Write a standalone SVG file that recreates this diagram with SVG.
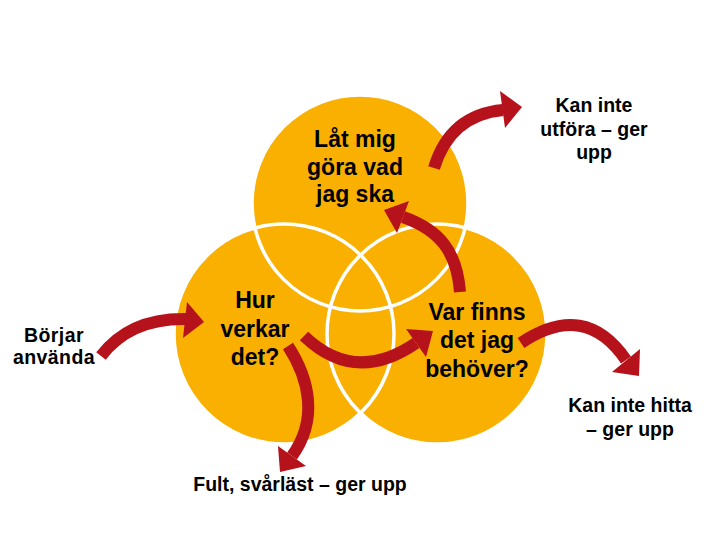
<svg xmlns="http://www.w3.org/2000/svg" width="720" height="540" viewBox="0 0 720 540">
<style>
.c{fill:#F9B000}
.o{fill:none;stroke:#FFFFFF;stroke-width:3.5}
.a{fill:none;stroke:#B5121B;stroke-width:12;stroke-linecap:butt}
.h{fill:#B5121B}
.t{font-family:"Liberation Sans",Arial,sans-serif;font-weight:bold;fill:#000;text-anchor:middle}
.big{font-size:23px}
.sm{font-size:19.5px}
</style>
<rect width="720" height="540" fill="#FFFFFF"/>
<g id="circles">
<circle class="c" cx="360" cy="203" r="108"/>
<circle class="c" cx="284" cy="334" r="110"/>
<circle class="c" cx="437" cy="334" r="110"/>
<circle class="o" cx="360" cy="203" r="108"/>
<circle class="o" cx="284" cy="334" r="110"/>
<circle class="o" cx="437" cy="334" r="110"/>
</g>
<g id="node-top"><text class="t big"><tspan x="355" y="147">Låt mig</tspan><tspan x="355" y="175">göra vad</tspan><tspan x="355" y="202">jag ska</tspan></text></g>
<g id="node-left"><text class="t big"><tspan x="255" y="308">Hur</tspan><tspan x="255" y="337">verkar</tspan><tspan x="255" y="365">det?</tspan></text></g>
<g id="node-right"><text class="t big"><tspan x="477" y="320">Var finns</tspan><tspan x="477" y="348">det jag</tspan><tspan x="477" y="377">behöver?</tspan></text></g>
<g id="label-start"><text class="t sm" style="letter-spacing:0.4px"><tspan x="54" y="342">Börjar</tspan><tspan x="54" y="364">använda</tspan></text></g>
<g id="label-utfora"><text class="t sm"><tspan x="594" y="112">Kan inte</tspan><tspan x="594" y="136">utföra – ger</tspan><tspan x="594" y="159">upp</tspan></text></g>
<g id="label-hitta"><text class="t sm"><tspan x="630" y="412">Kan inte hitta</tspan><tspan x="630" y="436">– ger upp</tspan></text></g>
<g id="label-fult"><text class="t sm" x="300" y="491">Fult, svårläst – ger upp</text></g>
<g id="connectors">
<path class="a" d="M101,356 Q130,318 186,319"/>
<polygon class="h" points="187,302 204,322 183,338"/>
<path class="a" d="M304,336 Q355,385 416,343"/>
<polygon class="h" points="406,329 433,331 426,357"/>
<path class="a" d="M288,346 C310,380 318,420 292,456"/>
<polygon class="h" points="306,466 280,472 278,446"/>
<path class="a" d="M460,292 C457,252 440,230 403,217"/>
<polygon class="h" points="409,201 384,210 397,233"/>
<path class="a" d="M434,168 Q450,115 503,110"/>
<polygon class="h" points="500,91 522,107 505,128"/>
<path class="a" d="M521,343 Q585,300 626,360"/>
<polygon class="h" points="640,349 639,376 612,372"/>
</g>
</svg>
